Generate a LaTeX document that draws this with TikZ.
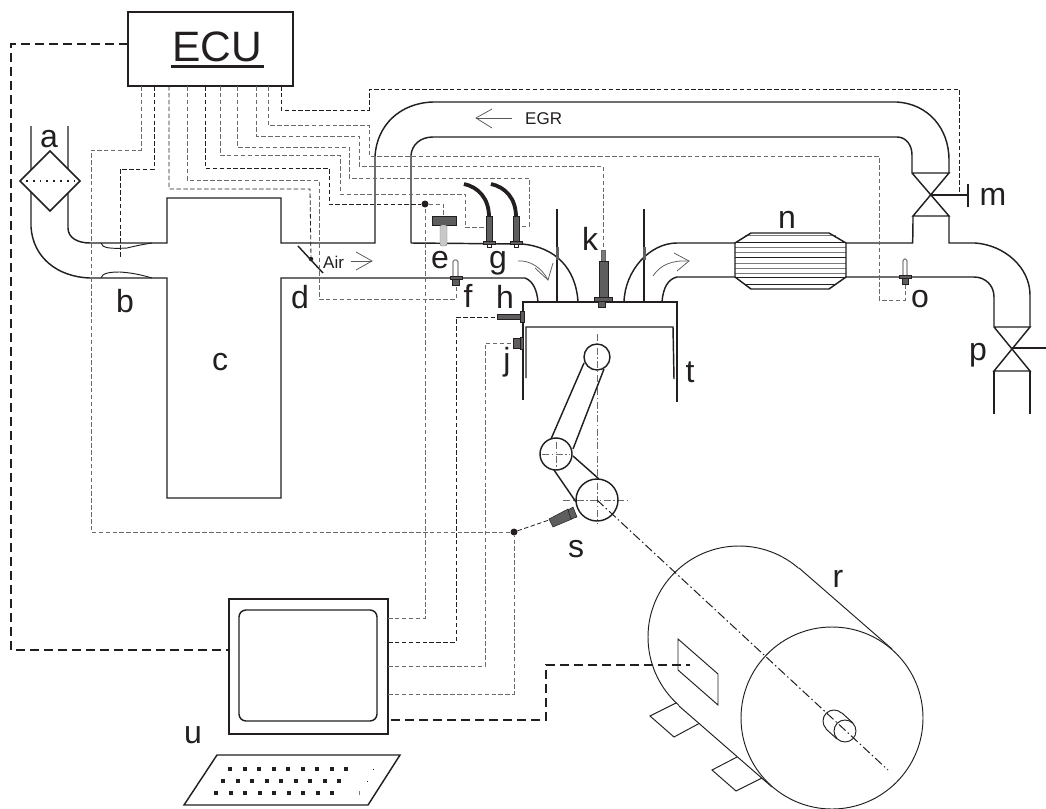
\documentclass[tikz,border=0pt]{standalone}
\usepackage{fontspec}
\setmainfont{Liberation Sans}
\definecolor{ink}{HTML}{231F20}
\definecolor{ctlgray}{HTML}{6A6A6A}
\definecolor{sens}{HTML}{5E5E5E}
\definecolor{pale}{HTML}{C8C8C8}
\tikzset{
  pipe/.style={draw=ink,line width=1.45pt},
  heavybox/.style={draw=ink,line width=1.9pt},
  thin part/.style={draw=ink,line width=0.95pt},
  ctl/.style={draw=ctlgray,line width=0.85pt,dash pattern=on 4.5pt off 2.4pt},
  ctldark/.style={draw=ink,line width=0.8pt,dash pattern=on 4.5pt off 2.4pt},
  link/.style={draw=ink,line width=1.6pt,dash pattern=on 9pt off 5pt},
  axisline/.style={draw=ink,line width=1pt,dash pattern=on 9pt off 3pt on 1.5pt off 3pt},
  axisgray/.style={draw=ctlgray,line width=0.8pt,dash pattern=on 7pt off 2.5pt on 1.5pt off 2.5pt},
  letter/.style={font=\fontsize{32}{32}\selectfont,text=ink,anchor=base,inner sep=0pt},
  small/.style={font=\fontsize{17}{17}\selectfont,text=ink,anchor=base west,inner sep=0pt},
  sensor/.style={fill=sens,draw=ink,line width=0.5pt},
  glass/.style={fill=white,draw=ink,line width=0.6pt},
  flow/.style={draw=ink!75,line width=0.75pt},
  blackdot/.style={circle,fill=ink,inner sep=0pt,minimum size=7pt},
  grille/.style={draw=ink!60,line width=0.8pt},
}
\begin{document}
\begin{tikzpicture}[x=1pt,y=-1pt]
\useasboundingbox (0,0) rectangle (1046,808);

% ---------- main boxes
\node[heavybox,draw,minimum width=165pt,minimum height=74pt,inner sep=0pt] (ecu) at (210.5,49) {};
\node[font=\fontsize{42.5}{42}\selectfont,text=ink,anchor=base,inner sep=0pt] (ecutext) at (217.5,62) {ECU};
\fill[ink] (171,65) rectangle (264,67.5);
\node[heavybox,draw,minimum width=159pt,minimum height=135pt,inner sep=0pt] (pc) at (308.5,666.5) {};
\draw[pipe,rounded corners=7pt] (239,610) rectangle (377,721);

% ---------- control line anchors
\foreach \n/\x in {1/141,2/154,3/169,4/187,5/205,6/220,7/237,8/256,9/268,10/281}
  \coordinate (e\n) at (\x,86);
\coordinate (m1) at (388,618);
\coordinate (m2) at (388,642);
\coordinate (m3) at (388,666);
\coordinate (m4) at (388,694);
\coordinate (m5) at (391,720);
\coordinate (mleft) at (229,650);
\coordinate (eculeft) at (128,44);
\node[blackdot] (dotA) at (425,204) {};
\node[blackdot] (dotS) at (514,532) {};
\node[circle,fill=ink,inner sep=0pt,minimum size=4.5pt] (dotT) at (311,259) {};

% ---------- motor
\draw[thin part,fill=white] (676,703) -- (650,716) -- (674,737) -- (700,723);
\draw[thin part,fill=white] (737,757) -- (712,770) -- (736,791) -- (762,778);
\node[thin part,draw,circle,minimum size=182pt,inner sep=0pt] (motorback) at (739,637) {};
\fill[white] (799,568) -- (892,649) -- (772,787) -- (679,706) -- cycle;
\draw[thin part] (799,568) -- (892,649);
\draw[thin part] (679,706) -- (772,787);
\node[thin part,draw,fill=white,circle,minimum size=182pt,inner sep=0pt] (motorfront) at (832,718) {};
\draw[thin part] (678,639) -- (718,674) -- (718,705) -- (678,670) -- cycle;
\node[thin part,draw,circle,minimum size=22pt,inner sep=0pt] (stubback) at (834,721) {};
\fill[white] (842,713) -- (853,723) -- (837,739) -- (826,729) -- cycle;
\draw[thin part] (842,713) -- (853,723);
\draw[thin part] (826,729) -- (837,739);
\node[thin part,draw,fill=white,circle,minimum size=22pt,inner sep=0pt] (stub) at (845,731) {};

% ---------- intake
\draw[pipe] (31,126) -- (31,227) .. controls (33,258) and (58,277) .. (90,278) -- (167,278) -- (167,498) -- (281,498) -- (281,278) -- (525,278) .. controls (533,281) and (537,290) .. (538,302);
\draw[pipe] (68,126) -- (68,228) .. controls (68,238) and (78,243) .. (90,243) -- (167,243) -- (167,198) -- (281,198) -- (281,243) -- (375,243) -- (375,156) .. controls (377,125) and (400,103) .. (433,102) -- (897,102) .. controls (928,104) and (949,128) .. (949,160) -- (949,173);
\draw[pipe,fill=white] (50,151) -- (80,181) -- (50,211) -- (20,181) -- cycle;
\draw[draw=ink,line width=1.2pt,dash pattern=on 1.8pt off 5pt] (26,181) -- (76,181);
\draw[thin part] (101,243) .. controls (102,248) and (110,249) .. (127,248) .. controls (135,246) and (145,244) .. (152,243);
\draw[thin part] (101,278) .. controls (102,273) and (110,272) .. (120,272) .. controls (135,273) and (145,276) .. (152,278);
\draw[pipe] (298,246) -- (323,273);

% ---------- EGR and exhaust
\draw[pipe] (411,243) -- (411,155) .. controls (412,145) and (420,137) .. (433,137) -- (897,137) .. controls (906,137) and (912,145) .. (912,155) -- (912,173);
\draw[pipe] (411,243) -- (522,244) .. controls (555,247) and (576,268) .. (578,302);
\draw[pipe] (912,173) -- (949,173) -- (913,216) -- (949,216) -- (912,173);
\draw[pipe] (930,195) -- (968,195);
\draw[pipe] (968,184) -- (968,207);
\draw[pipe] (846,243) -- (912.6,243) .. controls (912.8,238) and (913,225) .. (913,216);
\draw[pipe] (949,216) -- (949,243) -- (975,243) .. controls (1005,245) and (1030,268) .. (1030,295) -- (1030,327);
\draw[pipe] (846,277) -- (974,277) .. controls (985,277) and (994,285) .. (994,297) -- (994,327);
\draw[pipe] (994,327) -- (1030,327) -- (994,371) -- (1030,371) -- (994,327);
\draw[pipe] (1012,348) -- (1046,348);
\draw[pipe] (994,371) -- (994,414);
\draw[pipe] (1030,371) -- (1030,414);
\draw[pipe] (624,302) .. controls (625,270) and (650,243) .. (677,243) -- (735,243);
\draw[pipe] (662,302) .. controls (663,288) and (668,279) .. (677,277) -- (735,277);

% ---------- catalyst
\foreach \y in {247,252,263,268,273} \draw[grille] (735,\y) -- (846,\y);
\foreach \y in {242,257,277} \draw[thin part] (735,\y) -- (846,\y);
\draw[grille] (745,235) -- (836,235);
\draw[thin part] (745,284) -- (836,284);
\draw[pipe] (735,243) -- (751,233) -- (829,233) -- (846,243) -- (846,277) -- (829,289) -- (751,289) -- (735,277) -- cycle;

% ---------- cylinder
\draw[pipe] (523,400) -- (523,302) -- (677,302) -- (677,402);
\draw[pipe] (526,378) -- (526,327) -- (673,327) -- (674,379);
\draw[pipe] (557,209) -- (557,302);
\draw[pipe] (644,209) -- (644,302);
\fill[sens] (555.5,247) rectangle (558.5,260);
\fill[sens] (642.5,247) rectangle (645.5,260);

% ---------- crank axes
\draw[axisgray] (597,334) -- (597,524);
\draw[axisgray] (563,500) -- (628,500);
\draw[axisgray] (542,454) -- (570,454);
\draw[axisgray] (556,442) -- (556,468);

% ---------- crank
\node[pipe,draw,circle,minimum size=26pt,inner sep=0pt] (smallend) at (597,357) {};
\node[pipe,draw,circle,minimum size=32pt,inner sep=0pt] (crankpin) at (556,454) {};
\node[pipe,draw,circle,minimum size=42pt,inner sep=0pt] (crank) at (597,500) {};
\draw[pipe] (584,363) -- (551,439);
\draw[pipe] (604,369) -- (573,449);
\draw[pipe] (573,456) -- (599,479);
\draw[pipe] (554,470) -- (576,502);
\draw[axisline] (crank.center) -- (888,770);

% ---------- control wires
\draw[ctl] (e1) |- (91,150) |- (dotS);
\draw[ctldark] (e2) |- (120,169) -- (120,258);
\draw[ctldark] (e3) |- (310,189) -- (dotT);
\draw[ctl] (e4) |- (319,180) -- (319,299) -- (456,299) -- (456,285);
\draw[ctldark] (e5) |- (329,168) -- (329,204) -- (dotA);
\draw[ctl] (dotA) -- (443,204) -- (443,216);
\draw[ctl] (e6) |- (340,155) -- (340,194) -- (465,194) -- (465,227) -- (486,227);
\draw[ctl] (e7) |- (349,147) -- (349,178) -- (529,178) -- (529,226) -- (519,226);
\draw[ctl] (e8) |- (359,136) -- (359,166) -- (603,166) -- (603,250);
\draw[ctl] (e9) |- (369,125) -- (369,156) -- (879,156) -- (879,300) -- (905,300) -- (905,284);
\draw[ctldark] (e10) |- (369,110) -- (369,89) -- (959,89) -- (959,195);
\draw[ctl] (m1) -| (dotA);
\draw[ctldark] (m2) -| (456,317) -- (497,317);
\draw[ctl] (m3) -| (485,343) -- (513,343);
\draw[ctl] (m4) -| (dotS);
\draw[ctldark] (dotS) -- (549,520);
\draw[link] (eculeft) -| (11,650) -- (mleft);
\draw[link] (m5) -| (546,665) -- (690,665);

% ---------- sensors
\draw[sensor] (432,216) rectangle (456,225);
\draw[fill=pale,draw=ink!60,line width=0.4pt,rounded corners=2pt] (440,225) -- (440,246) -- (447,246) -- (447,225) -- cycle;
\draw[draw=ink,line width=3.8pt] (464,184) .. controls (478,187) and (489,198) .. (489,217);
\draw[draw=ink,line width=3.8pt] (491,184) .. controls (505,187) and (516,198) .. (516,217);
\draw[sensor] (486,216) rectangle (492,241);
\draw[sensor] (513,216) rectangle (519,241);
\draw[sensor] (483,241) rectangle (495,244);
\draw[sensor] (510,241) rectangle (522,244);
\draw[glass] (487,244) rectangle (491,247);
\draw[glass] (514,244) rectangle (518,247);
\draw[glass,rounded corners=1.5pt] (453,276) -- (453,260) -- (458,260) -- (458,276);
\draw[sensor] (450,276) rectangle (462,279);
\draw[sensor] (452,279) rectangle (459,285);
\draw[glass,rounded corners=1.5pt] (903,275) -- (903,259) -- (907,259) -- (907,275);
\draw[sensor] (899,275) rectangle (911,278);
\draw[sensor] (902,278) rectangle (908,284);
\draw[sensor] (497,314) rectangle (520,319);
\draw[sensor] (520,311) rectangle (524,322);
\draw[sensor] (513,338) rectangle (520,348);
\draw[sensor] (520,337) rectangle (523,349);
\draw[fill=ink!60,draw=ink!70,line width=0.3pt] (601,250) rectangle (605,261);
\draw[sensor] (599,261) rectangle (608,297);
\draw[sensor] (594,297) rectangle (612,301);
\draw[sensor] (598,301) rectangle (605,307);
\draw[sensor] (549,519) -- (568,509) -- (572,519) -- (553,527) -- cycle;
\draw[sensor] (568,510) -- (573,507) -- (577,517) -- (571,519) -- cycle;

% ---------- flow arrows
\draw[flow] (518,261) .. controls (530,260) and (542,268) .. (548,280);
\draw[flow] (535,268) -- (548,280) -- (553,263);
\draw[flow] (653,276) .. controls (660,265) and (672,260) .. (689,261);
\draw[flow] (674,253) -- (689,261) -- (677,271);
\draw[flow] (351,261) -- (372,261);
\draw[flow] (356,252) -- (372,261) -- (356,270);
\draw[flow] (512,118) -- (476,118);
\draw[flow] (492,109) -- (476,118) -- (492,128);

% ---------- keyboard
\draw[pipe] (217,755) -- (400,755) -- (368,805) -- (184,805) -- cycle;
\foreach \x in {230,244.5,...,360} \fill[ink] (\x-2,767) rectangle (\x+2,771);
\foreach \x in {223,237.5,...,353} \fill[ink] (\x-2,779) rectangle (\x+2,783);
\foreach \x in {216,230.5,...,346} \fill[ink] (\x-2,791) rectangle (\x+2,795);
\fill[ink] (373,768.5) rectangle (374,770);
\fill[ink] (367,780.5) rectangle (368,782);
\fill[ink!60] (359,791) rectangle (360,795);

% ---------- labels
\node[letter] (la) at (49,147) {a};
\node[letter] (lb) at (125,312) {b};
\node[letter] (lc) at (220,370) {c};
\node[letter] (ld) at (300,308) {d};
\node[letter] (le) at (440,268) {e};
\node[letter] (lf) at (468,307) {f};
\node[letter] (lg) at (498,268) {g};
\node[letter] (lh) at (505,308) {h};
\node[letter] (lj) at (507,370) {j};
\node[letter] (lk) at (590,250) {k};
\node[letter] (lm) at (993,205) {m};
\node[letter] (ln) at (787,228) {n};
\node[letter] (lo) at (920,307) {o};
\node[letter] (lp) at (978,360) {p};
\node[letter] (lr) at (838,587) {r};
\node[letter] (ls) at (576,557) {s};
\node[letter] (lt) at (690,382) {t};
\node[letter] (lu) at (193,743) {u};
\node[small] (lair) at (323,268) {Air};
\node[small] (legr) at (525,124) {EGR};
\end{tikzpicture}
\end{document}
